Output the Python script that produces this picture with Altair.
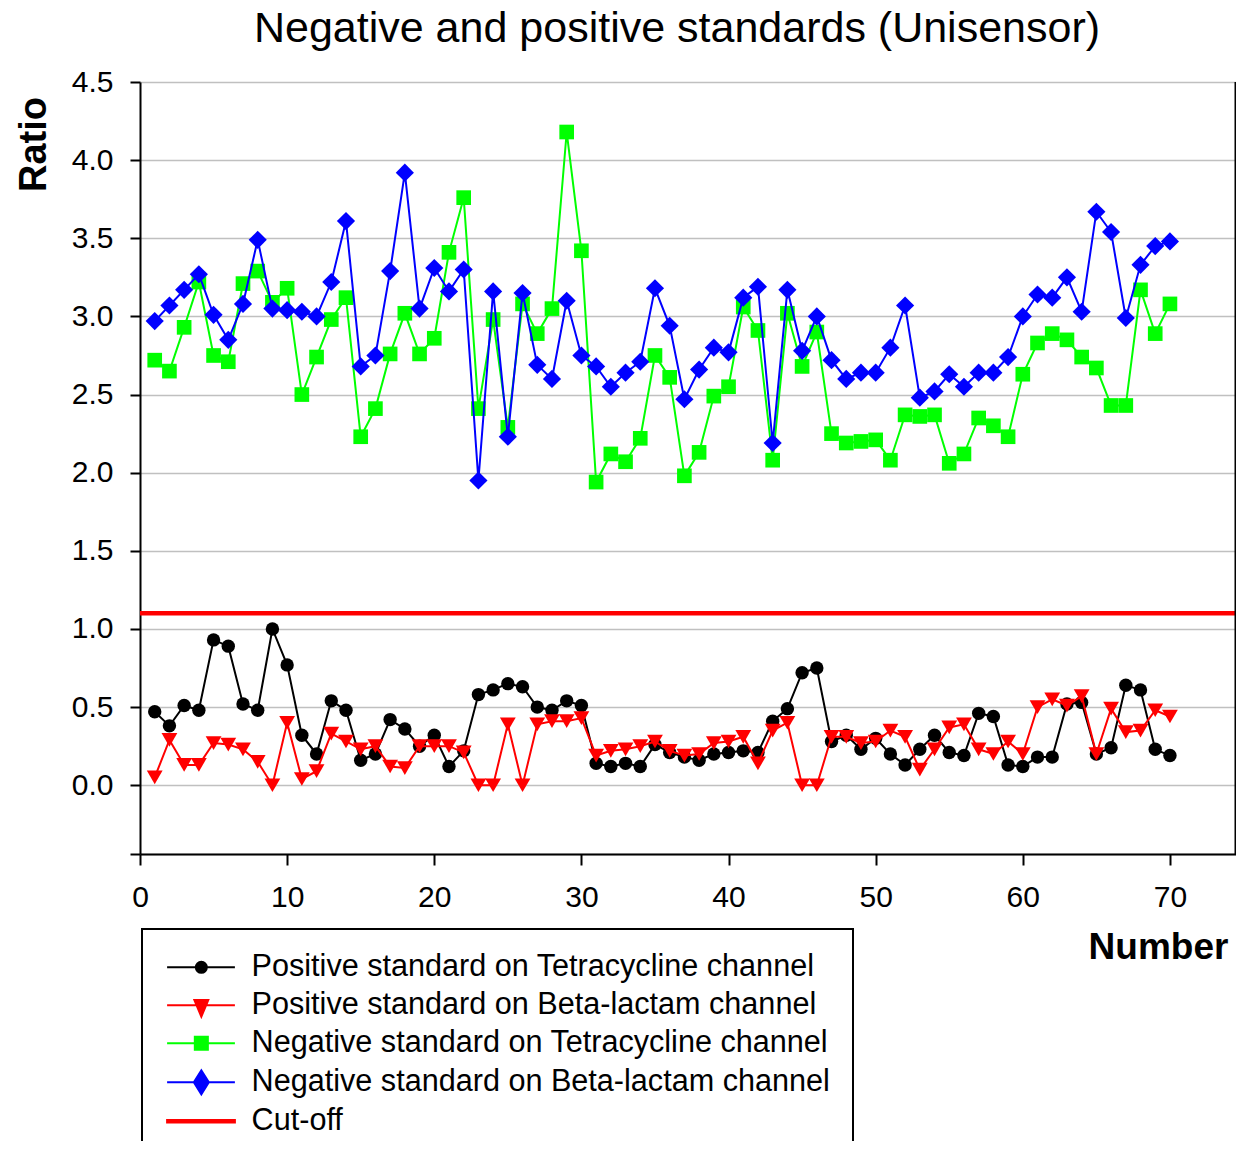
import altair as alt
import pandas as pd

# ---------------- data ----------------
numbers = list(range(1, 71))

pos_tet = [0.47, 0.38, 0.51, 0.48, 0.93, 0.89, 0.52, 0.48, 1.00, 0.77,
           0.32, 0.20, 0.54, 0.48, 0.16, 0.20, 0.42, 0.36, 0.25, 0.32,
           0.12, 0.22, 0.58, 0.61, 0.65, 0.63, 0.50, 0.48, 0.54, 0.51,
           0.14, 0.12, 0.14, 0.12, 0.26, 0.21, 0.18, 0.16, 0.20, 0.21,
           0.22, 0.21, 0.41, 0.49, 0.72, 0.75, 0.28, 0.32, 0.23, 0.30,
           0.20, 0.13, 0.23, 0.32, 0.21, 0.19, 0.46, 0.44, 0.13, 0.12,
           0.18, 0.18, 0.52, 0.53, 0.20, 0.24, 0.64, 0.61, 0.23, 0.19]

pos_bl = [0.05, 0.29, 0.13, 0.13, 0.27, 0.26, 0.23, 0.15, 0.00, 0.40,
          0.04, 0.09, 0.33, 0.28, 0.23, 0.25, 0.12, 0.11, 0.25, 0.25,
          0.25, 0.21, 0.00, 0.00, 0.39, 0.00, 0.39, 0.41, 0.41, 0.43,
          0.19, 0.22, 0.23, 0.25, 0.28, 0.22, 0.19, 0.20, 0.27, 0.28,
          0.31, 0.14, 0.35, 0.40, 0.00, 0.00, 0.31, 0.31, 0.27, 0.28,
          0.35, 0.31, 0.10, 0.23, 0.37, 0.39, 0.23, 0.20, 0.28, 0.20,
          0.50, 0.55, 0.51, 0.57, 0.20, 0.49, 0.34, 0.35, 0.48, 0.44]

neg_tet = [2.72, 2.65, 2.93, 3.22, 2.75, 2.71, 3.21, 3.29, 3.09, 3.18,
           2.50, 2.74, 2.98, 3.12, 2.23, 2.41, 2.76, 3.02, 2.76, 2.86,
           3.41, 3.76, 2.41, 2.98, 2.29, 3.08, 2.89, 3.05, 4.18, 3.42,
           1.94, 2.12, 2.07, 2.22, 2.75, 2.61, 1.98, 2.13, 2.49, 2.55,
           3.06, 2.91, 2.08, 3.02, 2.68, 2.90, 2.25, 2.19, 2.20, 2.21,
           2.08, 2.37, 2.36, 2.37, 2.06, 2.12, 2.35, 2.30, 2.23, 2.63,
           2.83, 2.89, 2.85, 2.74, 2.67, 2.43, 2.43, 3.17, 2.89, 3.08]

neg_bl = [2.97, 3.07, 3.17, 3.27, 3.01, 2.85, 3.08, 3.49, 3.05, 3.04,
          3.03, 3.00, 3.22, 3.61, 2.68, 2.75, 3.29, 3.92, 3.05, 3.31,
          3.16, 3.30, 1.95, 3.16, 2.23, 3.15, 2.69, 2.60, 3.10, 2.75,
          2.68, 2.55, 2.64, 2.71, 3.18, 2.94, 2.47, 2.66, 2.80, 2.77,
          3.12, 3.19, 2.19, 3.17, 2.78, 3.00, 2.72, 2.60, 2.64, 2.64,
          2.80, 3.07, 2.48, 2.52, 2.63, 2.55, 2.64, 2.64, 2.74, 3.00,
          3.14, 3.12, 3.25, 3.03, 3.67, 3.54, 2.99, 3.33, 3.45, 3.48]

cutoff = [1.1]

series_names = [
    "Positive standard on Tetracycline channel",
    "Positive standard on Beta-lactam channel",
    "Negative standard on Tetracycline channel",
    "Negative standard on Beta-lactam channel",
    "Cut-off",
]
series_colors = ["#000000", "#ff0000", "#00ff00", "#0000ff", "#ff0000"]
series_shapes = ["circle", "triangle-down", "square", "diamond"]
series_sizes = [180, 250, 215, 330]

x_ticks = [0, 10, 20, 30, 40, 50, 60, 70]
y_ticks = [-0.44, 0.0, 0.5, 1.0, 1.5, 2.0, 2.5, 3.0, 3.5, 4.0, 4.5]
x_domain = [0, 74.49]
y_domain = [-0.44, 4.5]

title_text = "Negative and positive standards (Unisensor)"

# legend symbols: line + marker (custom SVG paths)
seg = "M-1.1,0H4.55 "
legend_paths = [
    seg + "M2.213,0A0.46,0.46,0,1,1,1.293,0A0.46,0.46,0,1,1,2.213,0Z",
    seg + "M1.173,-0.45L2.333,-0.45L1.753,0.95Z",
    seg + "M1.21,-0.54H2.296V0.54H1.21Z",
    seg + "M1.128,0L1.753,-1L2.378,0L1.753,1Z",
    "M-1.1,-0.1H4.55V0.1H-1.1Z",
]

# ---------------- build ----------------
FONT = "Liberation Sans"

xscale = alt.Scale(domain=x_domain, nice=False, zero=False)
yscale = alt.Scale(domain=y_domain, nice=False, zero=False)

xaxis = alt.Axis(
    values=x_ticks, format="d", grid=False, labelFlush=False,
    labelFont=FONT, labelFontSize=30, labelColor="black",
    labelBaseline="top", labelPadding=17,
    tickSize=11, tickColor="black", tickWidth=2,
    domainColor="black", domainWidth=2,
    title="Number", titleFont=FONT, titleFontSize=37, titleFontWeight="bold",
    titleColor="black", titleX=1018, titleY=104, titleAlign="center",
    titleBaseline="alphabetic", titleAngle=0,
)
yaxis = alt.Axis(
    values=y_ticks, grid=True, gridColor="#c0c0c0", gridWidth=1.6, labelFlush=False,
    labelExpr="datum.value < -0.1 ? '' : format(datum.value, '.1f')",
    labelFont=FONT, labelFontSize=30, labelColor="black",
    labelBaseline="middle", labelPadding=17,
    tickSize=10, tickColor="black", tickWidth=2,
    domainColor="black", domainWidth=2,
    title="Ratio", titleFont=FONT, titleFontSize=38, titleFontWeight="bold",
    titleColor="black", titleX=-95, titleY=62, titleAlign="center",
    titleBaseline="alphabetic", titleAngle=270,
)

X = alt.X("Number:Q", scale=xscale, axis=xaxis)
Y = alt.Y("Ratio:Q", scale=yscale, axis=yaxis)

layers = []
for name, vals, col, shp, sz in zip(series_names[:4],
                                     [pos_tet, pos_bl, neg_tet, neg_bl],
                                     series_colors[:4], series_shapes, series_sizes):
    df = pd.DataFrame({"Number": numbers, "Ratio": vals})
    base = alt.Chart(df)
    layers.append(base.mark_line(color=col, strokeWidth=2).encode(x=X, y=Y))
    layers.append(base.mark_point(filled=True, shape=shp, size=sz, color=col,
                                  opacity=1, strokeWidth=0).encode(x=X, y=Y))

cut_df = pd.DataFrame({"Ratio": cutoff})
layers.append(alt.Chart(cut_df).mark_rule(color="#ff0000", strokeWidth=4.5).encode(y=Y))

right_df = pd.DataFrame({"Number": [x_domain[1]]})
layers.append(alt.Chart(right_df).mark_rule(color="black", strokeWidth=3).encode(x=X))

title_df = pd.DataFrame({"t": [title_text]})
layers.append(alt.Chart(title_df).mark_text(
    font=FONT, fontSize=43, color="black", align="center", baseline="alphabetic"
).encode(text="t:N", x=alt.value(537), y=alt.value(-40)))

leg_df = pd.DataFrame({"series": series_names})
legend = alt.Legend(
    orient="none", legendX=2, legendY=847, title=None,
    strokeColor="black", padding=23, rowPadding=7,
    labelFont=FONT, labelFontSize=30.6, labelColor="black", labelLimit=1000,
    labelOffset=56, symbolSize=576, symbolStrokeWidth=2, symbolOpacity=1,
)
layers.append(alt.Chart(leg_df).transform_filter("false").mark_point(
    filled=True, size=576, opacity=1
).encode(
    shape=alt.Shape("series:N", scale=alt.Scale(domain=series_names, range=legend_paths), legend=legend),
    fill=alt.Fill("series:N", scale=alt.Scale(domain=series_names, range=series_colors), legend=legend),
    stroke=alt.Stroke("series:N", scale=alt.Scale(domain=series_names, range=series_colors), legend=legend),
))

chart = alt.layer(*layers).properties(
    width=1096, height=772,
    autosize=alt.AutoSizeParams(type="none"),
    padding={"left": 132, "top": 74, "right": 0, "bottom": 287},
).configure_view(stroke=None).configure_legend(strokeWidth=2)

chart.save("out.html", embed_options={"renderer": "svg", "actions": False})
